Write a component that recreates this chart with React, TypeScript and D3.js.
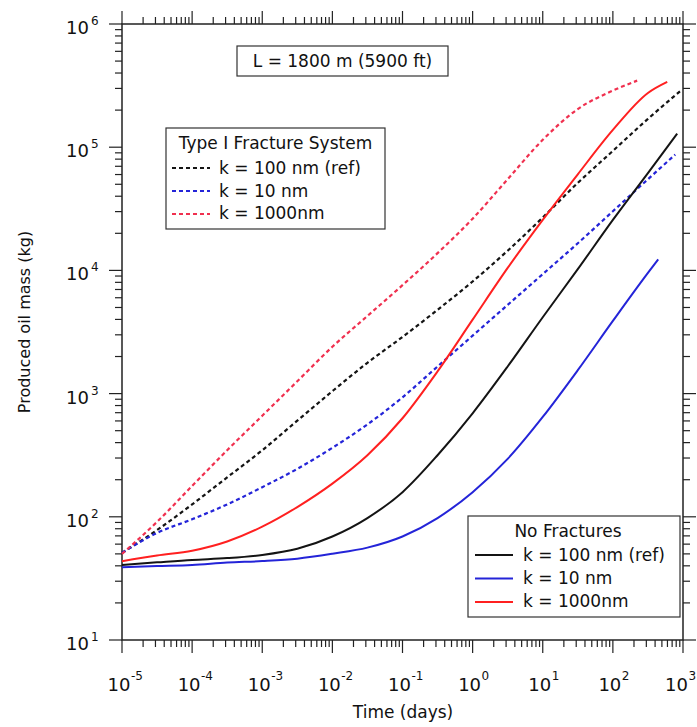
import React from 'react';
import * as d3 from 'd3';

const W = 697;
const H = 727;

const xTickExponents = [-5, -4, -3, -2, -1, 0, 1, 2, 3];
const yTickExponents = [1, 2, 3, 4, 5, 6];

const tGrid = [1e-5, 3.16e-5, 1e-4, 3.16e-4, 1e-3, 3.16e-3, 1e-2, 3.16e-2, 0.1, 0.316, 1, 3.16, 10, 31.6, 100, 316];

// Type I Fracture System (dashed)
const fracK100Days = [...tGrid, 912];
const fracK100Kg = [51, 78, 126, 209, 347, 603, 1047, 1778, 2884, 4786, 8128, 14450, 26900, 51300, 93300, 169800, 285000];
const fracK10Days = [...tGrid, 775];
const fracK10Kg = [51, 74, 95.5, 126, 174, 245, 363, 562, 933, 1660, 2951, 5248, 9333, 16600, 30200, 54950, 87100];
const fracK1000Days = [...tGrid.slice(0, 15), 222];
const fracK1000Kg = [50, 91, 178, 347, 661, 1259, 2399, 4266, 7586, 13800, 26300, 54950, 114800, 204000, 288000, 347000];

// No fractures (solid)
const noFracK100Days = [...tGrid, 826];
const noFracK100Kg = [40.7, 42.7, 44.7, 46.2, 49.0, 55.0, 69.2, 97.7, 158.5, 316, 692, 1660, 4169, 10230, 25700, 61660, 128800];
const noFracK10Days = [...tGrid, 443];
const noFracK10Kg = [38.9, 39.8, 40.7, 42.5, 43.7, 45.7, 50.1, 56.2, 69.2, 97.7, 158.5, 295, 646, 1549, 3890, 9550, 12300];
const noFracK1000Days = [...tGrid, 596];
const noFracK1000Kg = [43.6, 48.5, 53.1, 63.1, 83.2, 120, 186, 316, 631, 1514, 3981, 10470, 25700, 60260, 138000, 275400, 338800];

const fracLegendLabels = ['k = 100 nm (ref)', 'k = 10 nm', 'k = 1000nm'];
const noFracLegendLabels = ['k = 100 nm (ref)', 'k = 10 nm', 'k = 1000nm'];

const BLACK = '#141414';
const BLUE = '#2424d8';
const RED = '#ff2020';
const RED_DASH = '#f0304f';

const FONT = 'DejaVu Sans, Verdana, sans-serif';

export default function App() {
  const x0 = 122, x1 = 683, y0 = 24, y1 = 640;
  const x = d3.scaleLog().domain([1e-5, 1e3]).range([x0, x1]);
  const y = d3.scaleLog().domain([10, 1e6]).range([y1, y0]);

  const line = d3
    .line<[number, number]>()
    .x((d) => x(d[0]))
    .y((d) => y(d[1]))
    .curve(d3.curveMonotoneX);

  const zip = (a: number[], b: number[]) => a.map((t, i) => [t, b[i]] as [number, number]);

  const series = [
    { days: fracK100Days, kg: fracK100Kg, color: BLACK, dashed: true },
    { days: fracK10Days, kg: fracK10Kg, color: BLUE, dashed: true },
    { days: fracK1000Days, kg: fracK1000Kg, color: RED_DASH, dashed: true },
    { days: noFracK10Days, kg: noFracK10Kg, color: BLUE, dashed: false },
    { days: noFracK100Days, kg: noFracK100Kg, color: BLACK, dashed: false },
    { days: noFracK1000Days, kg: noFracK1000Kg, color: RED, dashed: false },
  ];

  const majorLen = 13;
  const minorLen = 7;

  const xMinor: number[] = [];
  for (let e = -5; e < 3; e++) for (let k = 2; k <= 9; k++) xMinor.push(k * Math.pow(10, e));
  const yMinor: number[] = [];
  for (let e = 1; e < 6; e++) for (let k = 2; k <= 9; k++) yMinor.push(k * Math.pow(10, e));

  const tickStroke = '#222';

  return (
    <svg
      width={W}
      height={H}
      style={{ position: 'absolute', left: 0, top: 0, background: '#fff' }}
      fontFamily={FONT}
    >
      <rect x={0} y={0} width={W} height={H} fill="#fff" />

      {/* ticks */}
      <g stroke={tickStroke} strokeWidth={1.2}>
        {xTickExponents.map((e) => {
          const px = x(Math.pow(10, e));
          return (
            <g key={'xm' + e}>
              <line x1={px} x2={px} y1={y1} y2={y1 + majorLen} />
              <line x1={px} x2={px} y1={y0} y2={y0 - majorLen} />
            </g>
          );
        })}
        {xMinor.map((v, i) => {
          const px = x(v);
          return (
            <g key={'xn' + i}>
              <line x1={px} x2={px} y1={y1} y2={y1 + minorLen} />
              <line x1={px} x2={px} y1={y0} y2={y0 - minorLen} />
            </g>
          );
        })}
        {yTickExponents.map((e) => {
          const py = y(Math.pow(10, e));
          return (
            <g key={'ym' + e}>
              <line x1={x0} x2={x0 - majorLen} y1={py} y2={py} />
              <line x1={x1} x2={x1 + majorLen} y1={py} y2={py} />
            </g>
          );
        })}
        {yMinor.map((v, i) => {
          const py = y(v);
          return (
            <g key={'yn' + i}>
              <line x1={x0} x2={x0 - minorLen} y1={py} y2={py} />
              <line x1={x1} x2={x1 + minorLen} y1={py} y2={py} />
            </g>
          );
        })}
      </g>

      {/* frame */}
      <rect x={x0} y={y0} width={x1 - x0} height={y1 - y0} fill="none" stroke="#222" strokeWidth={1.5} />

      {/* x tick labels */}
      {xTickExponents.map((e) => {
        const px = x(Math.pow(10, e));
        const start = Math.min(px - 14.5, 665);
        return (
          <text key={'xl' + e} x={start} y={691} fontSize={18} fill="#111">
            10
            <tspan fontSize={12} dx={0.5} dy={-11}>
              {String(e)}
            </tspan>
          </text>
        );
      })}

      {/* y tick labels */}
      {yTickExponents.map((e) => {
        const py = y(Math.pow(10, e));
        return (
          <g key={'yl' + e}>
            <text x={89} y={py + 10} fontSize={18} fill="#111" textAnchor="end">
              10
            </text>
            <text x={91} y={py + 1} fontSize={12} fill="#111">
              {String(e)}
            </text>
          </g>
        );
      })}

      {/* axis titles */}
      <text x={403} y={718} fontSize={17} textAnchor="middle" fill="#111">
        Time (days)
      </text>
      <text
        transform="translate(30,322) rotate(-90)"
        fontSize={16}
        textAnchor="middle"
        fill="#111"
      >
        Produced oil mass (kg)
      </text>

      {/* curves */}
      <g fill="none">
        {series.map((s, i) => (
          <path
            key={i}
            d={line(zip(s.days, s.kg)) || ''}
            stroke={s.color}
            strokeWidth={s.dashed ? 2.2 : 2}
            strokeDasharray={s.dashed ? '4 3' : undefined}
          />
        ))}
      </g>

      {/* L annotation */}
      <rect x={237} y={46} width={211} height={30} fill="#fff" stroke="#333" strokeWidth={1.2} />
      <text x={342.5} y={67} fontSize={17} textAnchor="middle" fill="#111">
        L = 1800 m (5900 ft)
      </text>

      {/* Type I legend */}
      <g>
        <rect x={166} y={128} width={219} height={101} fill="#fff" stroke="#333" strokeWidth={1.2} />
        <text x={275.5} y={149} fontSize={17} textAnchor="middle" fill="#111">
          Type I Fracture System
        </text>
        {fracLegendLabels.map((lab, i) => (
          <g key={'fl' + i}>
            <line
              x1={172}
              x2={210}
              y1={168 + i * 23}
              y2={168 + i * 23}
              stroke={[BLACK, BLUE, RED_DASH][i]}
              strokeWidth={2}
              strokeDasharray="4 3"
            />
            <text x={219} y={174 + i * 22.5} fontSize={17} fill="#111">
              {lab}
            </text>
          </g>
        ))}
      </g>

      {/* No fractures legend */}
      <g>
        <rect x={468} y={516} width={212} height={101} fill="#fff" stroke="#333" strokeWidth={1.2} />
        <text x={568} y={537} fontSize={17} textAnchor="middle" fill="#111">
          No Fractures
        </text>
        {noFracLegendLabels.map((lab, i) => (
          <g key={'nl' + i}>
            <line
              x1={475}
              x2={513}
              y1={555 + i * 23.5}
              y2={555 + i * 23.5}
              stroke={[BLACK, BLUE, RED][i]}
              strokeWidth={2}
            />
            <text x={523} y={561 + i * 23} fontSize={17} fill="#111">
              {lab}
            </text>
          </g>
        ))}
      </g>
    </svg>
  );
}
